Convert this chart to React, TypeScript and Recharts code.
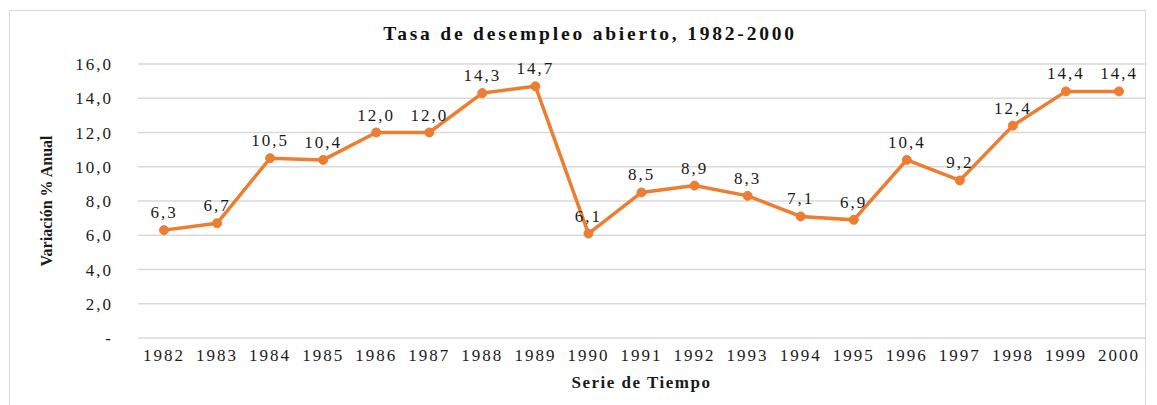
import { LineChart, Line, XAxis, YAxis, CartesianGrid, LabelList } from 'recharts';

const years = [
  '1982', '1983', '1984', '1985', '1986', '1987', '1988', '1989', '1990', '1991',
  '1992', '1993', '1994', '1995', '1996', '1997', '1998', '1999', '2000',
];
const unemployment = [6.3, 6.7, 10.5, 10.4, 12.0, 12.0, 14.3, 14.7, 6.1, 8.5, 8.9, 8.3, 7.1, 6.9, 10.4, 9.2, 12.4, 14.4, 14.4];
const yTicks = [0, 2, 4, 6, 8, 10, 12, 14, 16];

const data = years.map((year, i) => ({ year, value: unemployment[i] }));

const ORANGE = '#ED7D31';
const SERIF = '"Liberation Serif", "Times New Roman", serif';

// comma decimal, "-" for zero like the Excel original
const fmt = (v: number) => (v === 0 ? '-' : v.toFixed(1).replace('.', ','));

export default function App() {
  return (
    <div style={{ position: 'absolute', left: 0, top: 0, width: 1157, height: 405, background: '#fff', overflow: 'hidden' }}>
      <div
        style={{
          position: 'absolute', left: 9, top: 10, width: 1137, height: 420,
          border: '1.5px solid #d9d9d9', boxSizing: 'border-box',
        }}
      />
      <div
        style={{
          position: 'absolute', left: 0, width: 1180, top: 23, textAlign: 'center',
          fontFamily: SERIF, fontWeight: 'bold', fontSize: 19.5, letterSpacing: 2.8, color: '#111',
        }}
      >
        Tasa de desempleo abierto, 1982-2000
      </div>
      <LineChart width={1157} height={405} data={data} margin={{ top: 64, right: 12, bottom: 0, left: 36 }}>
        <CartesianGrid vertical={false} stroke="#d9d9d9" strokeWidth={1.5} />
        <XAxis
          dataKey="year"
          axisLine={false}
          tickLine={false}
          height={67}
          tickMargin={5}
          padding={{ left: 26, right: 26 }}
          interval={0}
          tick={{ fontFamily: SERIF, fontSize: 17, fill: '#1a1a1a', letterSpacing: 2 }}
          label={{
            value: 'Serie de Tiempo', position: 'insideBottom', offset: 17,
            style: { fontFamily: SERIF, fontWeight: 'bold', fontSize: 17, fill: '#1a1a1a', letterSpacing: 1.5 },
          }}
        />
        <YAxis
          width={102}
          domain={[0, 16]}
          ticks={yTicks}
          axisLine={false}
          tickLine={false}
          tickMargin={19}
          tickFormatter={fmt}
          tick={{ fontFamily: SERIF, fontSize: 17, fill: '#1a1a1a', letterSpacing: 2 }}
          label={{
            value: 'Variación % Anual', angle: -90, position: 'insideLeft', offset: 10,
            style: { fontFamily: SERIF, fontWeight: 'bold', fontSize: 16, fill: '#1a1a1a', textAnchor: 'middle' },
          }}
        />
        <Line
          type="linear"
          dataKey="value"
          stroke={ORANGE}
          strokeWidth={3.5}
          dot={{ r: 4.5, fill: ORANGE, stroke: ORANGE, strokeWidth: 1 }}
          isAnimationActive={false}
        >
          <LabelList
            dataKey="value"
            position="top"
            offset={12}
            formatter={(v: number) => fmt(v)}
            style={{ fontFamily: SERIF, fontSize: 17, fill: '#1a1a1a', letterSpacing: 2 }}
          />
        </Line>
      </LineChart>
    </div>
  );
}
